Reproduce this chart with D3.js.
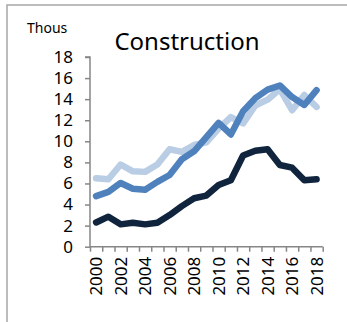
<!DOCTYPE html>
<html>
<head>
<meta charset="utf-8">
<script src="https://cdn.jsdelivr.net/npm/d3@7/dist/d3.min.js"></script>
<style>
  html, body { margin: 0; padding: 0; background: #fff; }
  svg { display: block; }
  text { font-family: "Noto Sans", "Open Sans", sans-serif; fill: #000; }
</style>
</head>
<body>
<svg id="chart" width="347" height="322"></svg>
<script>
// Construction employment, thousands
const years = [2000, 2001, 2002, 2003, 2004, 2005, 2006, 2007, 2008, 2009,
               2010, 2011, 2012, 2013, 2014, 2015, 2016, 2017, 2018];
const seriesLight = [6.5, 6.4, 7.8, 7.15, 7.1, 7.8, 9.25, 9.0, 9.65, 9.9,
                     11.2, 12.3, 11.7, 13.4, 13.95, 14.95, 12.95, 14.4, 13.25];
const seriesMid   = [4.8, 5.2, 6.05, 5.5, 5.4, 6.15, 6.8, 8.3, 9.05, 10.4,
                     11.75, 10.65, 12.85, 14.1, 14.9, 15.3, 14.2, 13.45, 14.85];
const seriesDark  = [2.3, 2.85, 2.12, 2.27, 2.12, 2.27, 3.0, 3.85, 4.6, 4.85,
                     5.85, 6.3, 8.65, 9.1, 9.25, 7.75, 7.5, 6.3, 6.4];
const yTicks = [0, 2, 4, 6, 8, 10, 12, 14, 16, 18];
const xLabels = years.filter(y => y % 2 === 0);

const svg = d3.select("#chart");

// outer frame (top and left edges)
svg.append("path")
  .attr("d", "M7,322 V5 H347")
  .attr("fill", "none")
  .attr("stroke", "#a6a6a6")
  .attr("stroke-width", 1.5);

const plotLeft = 90, plotRight = 322.7, plotTop = 57, plotBottom = 246.7;

const x = d3.scaleBand().domain(years).range([plotLeft, plotRight]).padding(0);
const xEdge = d3.scaleLinear().domain([0, years.length]).range([plotLeft, plotRight]);
const y = d3.scaleLinear().domain([0, 18]).range([plotBottom, plotTop]);

// y axis
const yAxis = svg.append("g")
  .attr("transform", `translate(${plotLeft},0)`)
  .call(d3.axisLeft(y).tickValues(yTicks).tickSize(5).tickPadding(12));
yAxis.selectAll("path, line").attr("stroke", "#868686").attr("stroke-width", 1.5);
yAxis.select(".domain").attr("d", `M-5,${plotTop}H0V${plotBottom}`);
yAxis.selectAll("text").style("font-size", "17px").attr("fill", "#000");

// x axis with tick marks on category boundaries
const xAxis = svg.append("g")
  .attr("transform", `translate(0,${plotBottom})`)
  .call(d3.axisBottom(xEdge).tickValues(d3.range(years.length + 1))
    .tickSize(5).tickFormat(""));
xAxis.selectAll("path, line").attr("stroke", "#868686").attr("stroke-width", 1.5);
xAxis.select(".domain").attr("d", `M${plotLeft},0H${plotRight}`);

// rotated year labels
svg.append("g").selectAll("text")
  .data(xLabels)
  .join("text")
  .attr("transform", d => `translate(${x(d) + x.bandwidth() / 2 + 6},${plotBottom + 10}) rotate(-90)`)
  .attr("text-anchor", "end")
  .style("font-size", "17px")
  .text(d => d);

// lines
const line = d3.line()
  .x((d, i) => x(years[i]) + x.bandwidth() / 2)
  .y(d => y(d))
  .curve(d3.curveLinear);

const series = [
  { values: seriesLight, color: "#b9cde5" },
  { values: seriesMid, color: "#4f81bd" },
  { values: seriesDark, color: "#10243e" }
];

svg.append("g").selectAll("path")
  .data(series)
  .join("path")
  .attr("d", d => line(d.values))
  .attr("fill", "none")
  .attr("stroke", d => d.color)
  .attr("stroke-width", 6.5)
  .attr("stroke-linejoin", "round")
  .attr("stroke-linecap", "round");

// title and unit
svg.append("text")
  .attr("x", 187)
  .attr("y", 50)
  .attr("text-anchor", "middle")
  .style("font-size", "24px")
  .text("Construction");

svg.append("text")
  .attr("x", 27)
  .attr("y", 33)
  .style("font-size", "14px")
  .text("Thous");
</script>
</body>
</html>
